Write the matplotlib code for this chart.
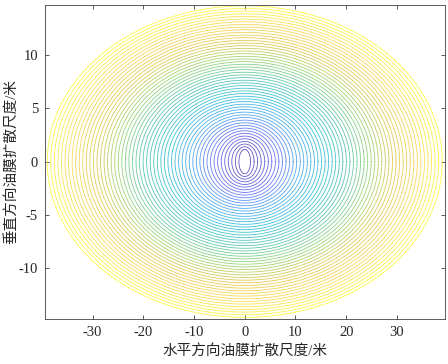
import numpy as np
import matplotlib
matplotlib.use("Agg")
import matplotlib.pyplot as plt
from matplotlib.colors import LinearSegmentedColormap

# Semi-axes of each spreading ellipse (horizontal a, vertical b), in metres
semi_a = [1.15, 1.85, 2.55, 3.25, 3.95, 4.65, 5.35, 6.05, 6.75, 7.45,
          8.15, 8.85, 9.55, 10.25, 10.95, 11.65, 12.35, 13.05, 13.75, 14.45,
          15.15, 15.85, 16.55, 17.25, 17.95, 18.65, 19.35, 20.05, 20.75, 21.45,
          22.15, 22.85, 23.55, 24.25, 24.95, 25.65, 26.35, 27.05, 27.75, 28.45,
          29.15, 29.85, 30.55, 31.25, 31.95, 32.65, 33.35, 34.05, 34.75, 35.45,
          36.15, 36.85, 37.55, 38.25, 38.95]
semi_b = [1.15, 1.40, 1.65, 1.90, 2.15, 2.40, 2.65, 2.90, 3.15, 3.40,
          3.65, 3.90, 4.15, 4.40, 4.65, 4.90, 5.15, 5.40, 5.65, 5.90,
          6.15, 6.40, 6.65, 6.90, 7.15, 7.40, 7.65, 7.90, 8.15, 8.40,
          8.65, 8.90, 9.15, 9.40, 9.65, 9.90, 10.15, 10.40, 10.65, 10.90,
          11.15, 11.40, 11.65, 11.90, 12.15, 12.40, 12.65, 12.90, 13.15, 13.40,
          13.65, 13.90, 14.15, 14.40, 14.65]

x_ticks = [-30, -20, -10, 0, 10, 20, 30]
y_ticks = [-10, -5, 0, 5, 10]
x_label = "水平方向油膜扩散尺度/米"
y_label = "垂直方向油膜扩散尺度/米"

parula_pts = [(0.2422, 0.1504, 0.6603), (0.2810, 0.3228, 0.9579),
              (0.1540, 0.5902, 0.9218), (0.0297, 0.7082, 0.8163),
              (0.1986, 0.7214, 0.6310), (0.5044, 0.7993, 0.3480),
              (0.8634, 0.7406, 0.1596), (0.9892, 0.8136, 0.1885),
              (0.9769, 0.9839, 0.0805)]
parula = LinearSegmentedColormap.from_list("parula", parula_pts)

plt.rcParams['axes.unicode_minus'] = False
plt.rcParams['font.family'] = ['Liberation Serif', 'Noto Sans CJK SC']

fig = plt.figure(figsize=(4.48, 3.64), dpi=100)
ax = fig.add_axes([0.1004, 0.1236, 0.8929, 0.8634])

theta = np.linspace(0, 2 * np.pi, 400)
n = len(semi_a)
for i, (a, b) in enumerate(zip(semi_a, semi_b)):
    ax.plot(a * np.cos(theta), b * np.sin(theta),
            color=parula(i / (n - 1)), lw=0.6, alpha=0.8)

ax.set_xlim(-39.4, 39.5)
ax.set_ylim(-14.8, 14.75)
ax.set_xticks(x_ticks)
ax.set_yticks(y_ticks)
ax.tick_params(direction='in', top=True, right=True, length=3,
               width=0.6, color='#404040', labelsize=10.5, labelcolor='#262626',
               pad=5)
for s in ax.spines.values():
    s.set_color('#404040')
    s.set_linewidth(0.6)
ax.set_xlabel(x_label, fontsize=10.5, color='#262626')
ax.set_ylabel(y_label, fontsize=10.5, color='#262626')
ax.xaxis.set_label_coords(0.5, -0.08)
ax.yaxis.set_label_coords(-0.067, 0.5)

fig.savefig("out.png", dpi=100)
